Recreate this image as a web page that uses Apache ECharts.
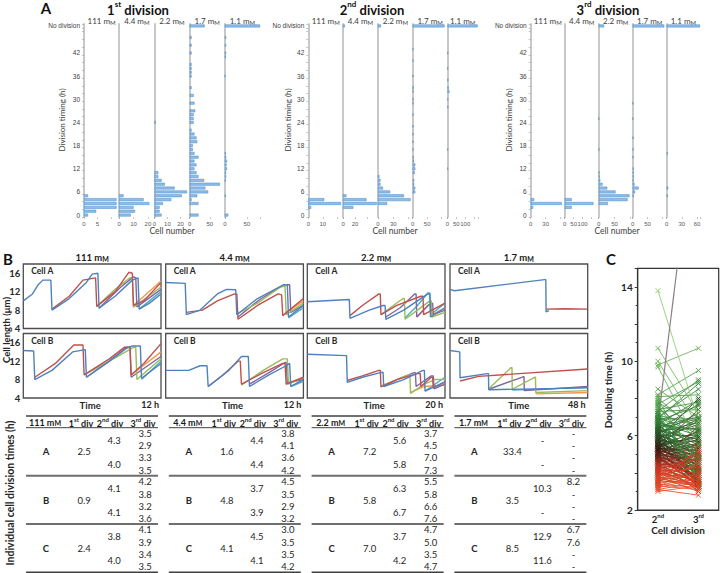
<!DOCTYPE html>
<html><head><meta charset="utf-8">
<script src="https://cdn.jsdelivr.net/npm/echarts@6/dist/echarts.min.js"></script>
<style>html,body{margin:0;padding:0;background:#fff}#c{width:720px;height:573px}</style>
</head><body><div id="c"></div>
<script>
// ================= DATA =================
// Panel A: division timing histograms (hour bin -> cell count, 'ND' = no division)
const hourCats = [];
for (let i = 0; i < 48; i++) hourCats.push(String(i));
hourCats.push(' '); hourCats.push('No division');
const hourTickLabels = ['0','6','12','18','24','30','36','42','No division'];
const concs = ['111','4.4','2.2','1.7','1.1'];
const divTitles = [['1','st'],['2','nd'],['3','rd']];

const h1_111 = [[0,1.5],[1,4.5],[2,12],[3,12],[4,12],[5,1.5]];
const h1_44  = [[0,8],[1,11],[2,10],[3,21],[4,17],[5,3]];
const h1_22  = [[0,5.5],[1,4],[2,4],[3,6.5],[4,13],[5,21],[6,25],[7,15.5],[8,8],[9,5.5],[10,3],[11,3],[24,1]];
const h1_17  = [[0,22],[3,22],[4,5],[5,19],[6,46],[7,39],[8,75],[9,36],[10,22],[11,17],[12,12],[13,17],[14,12],[15,22],[16,12],[17,8],[18,8],[19,19],[20,17],[21,12],[22,5],[24,10],[25,10],[26,10],[27,14],[29,12],[31,10],[33,5],[36,5],[37,5],[38,5],[39,5],[42,5],[44,5],[46,5],['ND',37]];
const h1_11  = [[0,8],[5,2],[9,2],[10,3],[11,3],[12,5],[13,4],[14,5],[15,3],[16,2],[36,1],[41,2],[42,3],[44,3],[46,3],['ND',80]];

const h2_111 = [[2,2],[3,22.5],[4,11]];
const h2_44  = [[2,17],[3,56],[4,39],[5,5.5],['ND',3]];
const h2_22  = [[3,18],[4,64],[5,51],[6,24],[7,10],[8,5],[9,5],[10,3],['ND',6]];
const h2_17  = [[6,9],[7,9],[8,5],[9,5],[11,7],[12,9],[13,9],[14,4],[15,3],[17,2],[19,2],[21,2],[23,2],[26,2],[29,2],[30,2],[32,2],[33,3],[36,2],[40,2],[43,2],['ND',110]];
const h2_11  = [[12,2],[17,2],[28,4],[30,3],[32,11],[33,6],[35,4],[38,2],[42,3],['ND',170]];

const h3_111 = [[2,5],[3,62],[4,7]];
const h3_44  = [[2,39],[3,161],[4,39]];
const h3_22  = [[3,29],[4,91],[5,97],[6,53],[7,27],[8,12],[9,5],[10,3],[11,2],[17,1],[25,1],['ND',17]];
const h3_17  = [[5,3],[6,8],[7,20],[8,6],[9,3],[10,3],[11,3],[12,3],[15,2],[17,2],[20,2],[25,1],[29,1],['ND',107]];
const h3_11  = [[5,2],[7,3],[16,2],['ND',66]];

const histSets = [[h1_111,h1_44,h1_22,h1_17,h1_11],[h2_111,h2_44,h2_22,h2_17,h2_11],[h3_111,h3_44,h3_22,h3_17,h3_11]];
const histMax = [[13,24.5,27,87,80],[24,58,68,120,172],[68,190,107,115,66]];
const histStep = [[5,10,10,50,50],[10,20,30,50,50],[30,50,50,50,30]];
const histLabelMax = [[5,20,20,50,50],[10,20,30,50,100],[30,100,50,50,60]];

// Panel B: cell length traces [time (h), length (um)], order: blue, red, green, purple, orange, cyan
const bConcs = ['111','4.4','2.2','1.7'];
const bTimeMax = [12,12,20,48];
const bTimeLabels = ['12 h','12 h','20 h','48 h'];
const lenTicks = [4,8,12,16];
const b111A = [
 [[0,10],[0.8,11.5],[1.3,13.5],[1.7,14.5],[2.4,14.5],[2.5,8],[4,10.5],[5.5,14],[6,15.8],[6.5,16],[6.6,8.4],[8,11],[9.5,14.5],[10,15],[10.1,8.2],[11,9.5],[12,11.5]],
 [[2.5,8.2],[4,11],[5.2,14.5],[6.3,15],[6.4,8.8],[8,12],[9.2,16.2],[9.5,16],[9.6,9],[10.5,10],[12,14]],
 [[6.4,8.8],[8,12.5],[9.3,15],[9.5,15],[9.6,8.6],[12,13]],
 [[6.6,8.4],[8.5,13],[9.6,15.2],[9.8,15],[9.9,8.7],[12,12.5]],
 [[9.6,9],[12,14.3]],
 [[10.1,8.2],[12,12]]];
const b111B = [
 [[0,14.3],[0.9,14.2],[1,8],[2.5,10],[4.3,14],[5.4,14.5],[5.5,8.5],[7.5,12],[9,14.8],[9.5,15.3],[10.2,15.3],[10.3,8.3],[12,11.5]],
 [[1,8.5],[2.8,11.5],[4.4,15.5],[5.2,15.5],[5.3,9],[7.5,12.5],[8.8,15],[9.3,15],[9.4,9],[10.5,11.5],[12,15.8]],
 [[5.3,9],[7.5,12],[9.6,15],[9.8,15],[9.9,8],[12,12.5]],
 [[5.5,8.5],[7.5,12],[9,15],[9.3,15],[9.4,8.5],[12,13]],
 [[9.4,9],[12,14]],
 [[10.3,8],[12,12]]];
const b44A = [
 [[0,14],[1.7,13.8],[1.8,7],[3,8],[4.5,11.5],[5.3,12.5],[6.1,12.4],[6.2,7],[8,10.5],[10.3,13.5],[10.6,13.5],[10.7,6.5],[12,9]],
 [[1.8,7.5],[3.2,8],[4.5,10],[6,11.5],[6.2,11.5],[6.3,6],[8,9],[9.8,11.5],[10.1,11.3],[10.2,6.8],[12,10.5]],
 [[6.2,7.2],[8,9.5],[10,13],[10.4,13.2],[10.5,7],[12,9.5]],
 [[6.3,6.5],[8.2,10.3],[10.3,13.5],[10.8,13.5],[10.9,7.5],[12,9]],
 [[10.5,7.5],[12,10]],
 [[10.7,6.3],[12,8.5]]];
const b44B = [
 [[0,10],[2,10],[3,11],[3.6,11],[3.7,6.5],[5.5,10],[6.6,13],[7.2,13],[7.3,6.5],[9,9],[10.5,11],[10.8,11.5],[10.9,6.5],[12,8]],
 [[3.7,6.5],[5,9],[6.3,12],[6.5,12],[6.6,7],[8.5,9.5],[10.2,11.5],[10.4,11.5],[10.5,7],[12,8.5]],
 [[6.6,6.8],[8.5,10],[10.2,12.5],[10.6,12.5],[10.7,7],[12,8.5]],
 [[7.3,7],[9,9.5],[10.4,11.7],[10.5,11.7],[10.6,7.3],[12,8]],
 [[10.5,7],[12,8.3]],
 [[10.9,6.5],[12,7.6]]];
const b22A = [
 [[0,9.8],[6.1,10.3],[6.2,6.2],[9,8],[11,9],[11.3,9],[11.4,6],[14,8],[17.5,11.5],[17.8,11.5],[17.9,6.5],[20,8.5]],
 [[6.2,6.8],[8,9],[10.4,11.5],[10.6,11.5],[10.7,7],[13,9],[16.5,11],[16.8,11],[16.9,7],[20,9.5]],
 [[10.7,7],[12.5,9],[13.9,10.5],[14.1,10.5],[14.2,6],[16,8],[17.8,10],[18,10],[18.1,6.5],[20,7.5]],
 [[11.4,6.5],[13.5,8.5],[15.6,11.5],[15.8,11.5],[15.9,6.5],[17.5,9],[18.2,9.5],[18.3,7],[20,8]],
 [[15.9,6.5],[17.6,9],[18,9.3],[18.1,7],[20,8.5]],
 [[14.2,6.3],[16,9],[17.5,11.7],[17.8,11.7],[17.9,7],[20,9.5]]];
const b22B = [
 [[0,13.5],[5.7,13.2],[5.8,7.4],[8,8.5],[10.6,9.5],[11,9.6],[11.1,6.5],[14,8],[16.8,10],[17,10],[17.1,5.5],[20,7.5]],
 [[5.8,7.8],[8,8.8],[10.4,10],[10.6,10],[10.7,6.4],[13,8],[16,9.3],[16.4,9.3],[16.5,6.5],[18,8.5],[18.2,8.5],[18.3,6.2],[20,7.5]],
 [[10.7,6.6],[13,8],[14.7,9],[14.9,9],[15,5],[17,7],[18.5,8],[20,8]],
 [[11.1,6.6],[13.5,8.3],[15.5,9.5],[15.7,9.5],[15.8,6.5],[18,8.8],[18.3,8.8],[18.4,6],[20,7]],
 [[15,5.2],[17,6.5],[20,6.8]],
 [[17.1,5.5],[20,8.5]]];
const b17A = [
 [[0,12.5],[1.5,12.2],[33,14.6],[33.4,14.6],[33.5,7.6],[34.5,7.9]],
 [[33.5,8.2],[40,8.3],[48,8.2]]];
const b17B = [
 [[0,14.3],[3.4,14],[3.5,8.4],[13,9.3],[13.4,9.3],[13.5,5.8],[48,6.2]],
 [[3.5,7.7],[10,8.7],[48,10.3]],
 [[13.5,6],[21.3,10.6],[21.6,10.6],[21.7,5.9],[29.5,8.5],[29.8,8.5],[29.9,5.2],[48,5.6]],
 [[13.5,5.9],[25.5,8.6],[25.8,8.6],[25.9,5.6],[48,6.5]],
 [[29.9,4.9],[48,5.2]],
 [[21.7,5.7],[48,6.3]]];
const bSets = [[b111A,b111B],[b44A,b44B],[b22A,b22B],[b17A,b17B]];

// Tables
const tabConc = ['111','4.4','2.2','1.7'];
const tabCells = ['A','B','C'];
const tabDiv1 = [['2.5','0.9','2.4'],['1.6','4.8','4.1'],['7.2','5.8','7.0'],['33.4','3.5','8.5']];
const tabDiv2 = [
 [['4.3','4.0'],['4.1','4.1'],['3.8','4.0']],
 [['4.4','4.4'],['3.7','3.9'],['4.5','4.1']],
 [['5.6','5.8'],['6.3','6.7'],['3.7','4.2']],
 [['-','-'],['10.3','-'],['12.9','11.6']]];
const tabDiv3 = [
 [['3.5','2.9','3.3','3.5'],['4.2','3.8','3.2','3.6'],['4.1','3.9','3.4','3.5']],
 [['3.8','4.1','3.6','4.2'],['4.5','3.5','2.9','3.2'],['3.0','3.5','3.5','4.2']],
 [['3.7','4.5','7.0','7.3'],['5.5','5.8','6.6','7.6'],['4.7','5.0','3.5','4.7']],
 [['-','-','-','-'],['8.2','-','-','-'],['6.7','7.6','-','-']]];

// Panel C: doubling time pairs [2nd division, 3rd division]
const cCats = ['2nd','3rd'];
const cTicks = [2,6,10,14];
const cPairs = [
 [13.8,6.8],[10.7,7.2],[10.0,6.5],[9.8,10.7],[9.7,5.5],[8.5,7.0],[8.2,9.5],[8.0,6.2],[7.9,4.5],[7.7,8.9],
 [7.5,5.8],[7.3,7.4],[7.2,4.0],[7.1,6.6],[7.0,8.5],[6.9,5.2],[6.8,7.6],[6.8,3.6],[6.7,6.0],[6.6,4.8],
 [6.5,7.0],[6.5,5.5],[6.4,4.2],[6.3,6.4],[6.3,3.3],[6.2,5.0],[6.1,7.2],[6.0,4.5],[6.0,6.0],[5.9,3.8],
 [5.8,5.3],[5.8,8.0],[5.7,4.4],[5.6,6.8],[5.6,3.5],[5.5,4.9],[5.5,5.9],[5.4,4.0],[5.3,7.4],[5.3,3.2],
 [5.2,4.6],[5.1,5.6],[5.0,3.7],[5.0,6.3],[4.9,4.1],[4.8,3.4],[4.8,5.1],[4.7,4.3],[4.6,3.0],[4.6,6.5],
 [4.5,3.9],[4.4,4.7],[4.4,3.4],[4.3,5.4],[4.2,3.6],[4.1,4.2],[4.0,3.2],[4.0,5.0],[3.9,3.8],[3.8,4.4],
 [3.7,3.3],[3.6,5.2],[3.5,3.6],[3.4,4.0],[3.3,3.1],[3.2,4.6],[3.1,3.5],[3.1,2.8],[6.4,6.9],[6.2,4.0],
 [6.0,5.4],[5.9,6.6],[5.8,4.1],[5.7,5.7],[5.6,3.9],[5.5,6.2],[5.4,4.7],[5.3,5.2],[5.2,3.6],[5.1,4.3],
 [5.0,5.5],[4.9,3.3],[4.8,4.5],[4.7,3.8],[4.6,5.0],[4.5,4.2],[4.3,3.5],[4.2,4.8],[4.1,3.3],[3.9,4.3],
 [3.8,3.0],[3.6,3.9],[3.5,4.5],[3.4,3.2],[3.2,3.7],[3.0,3.3],[7.0,6.1],[7.4,7.8],[7.2,5.0],[6.9,6.9],
 [6.6,7.9],[6.5,4.3],[6.3,5.8],[6.1,3.5],[6.9,4.6],[6.8,5.6],[6.7,3.9],[6.6,6.3],[6.5,3.6],[6.4,5.1],
 [6.3,7.7],[6.2,6.7],[6.1,4.9],[6.0,3.4],[5.9,5.0],[5.8,6.9],[5.7,3.6],[5.6,4.8],[5.5,3.4],[5.4,6.0],
 [5.3,4.4],[5.2,5.8],[5.1,3.5],[5.0,4.6],[4.9,5.3],[4.8,3.7],[4.7,4.9],[4.6,3.9],[4.5,5.6],[4.4,3.7],
 [4.3,4.4],[4.2,3.2],[4.1,5.1],[4.0,3.6],[3.9,4.8],[3.8,3.4],[3.7,4.1],[3.6,3.3],[3.5,4.9],[3.3,3.8],
 [7.8,6.4],[7.6,4.8],[8.1,8.2],[7.1,3.8],[6.9,8.8],[7.3,9.0]];
const cOutlier = [6.7,24.3];

// ================= LAYOUT / STYLE =================
const FONT = 'Lato, "Open Sans", sans-serif';
const PAL = ['#4f81bd','#c0504d','#9bbb59','#8064a2','#f79646','#4bacc6'];
const histLeft = [[84,119.2,154.4,189.6,224.8],[308.3,343.1,377.9,412.7,447.5],[530.7,564.7,598.7,632.7,666.7]];
const histEnd = [260,478,700];
const histAxisTitleX = [62,288,509];
const histCenter = [138,372,608];
const cellNumX = [172,395,617];

const grids = [], xAxes = [], yAxes = [], series = [], gfx = [];
function txt(x, y, text, st, extra) {
  return Object.assign({type:'text', x, y, silent:true, style:Object.assign({text, fill:'#262626', fontFamily:FONT, fontSize:9, align:'center', verticalAlign:'middle'}, st)}, extra || {});
}
const mmRich = (size, bold, color) => ({
  n:{fontSize:size, fontWeight:bold?'bold':'normal', fontFamily:FONT, fill:color, color:color, verticalAlign:'bottom'},
  c:{fontSize:Math.round(size*0.75), fontWeight:bold?'bold':'normal', fontFamily:FONT, fill:color, color:color, verticalAlign:'bottom'}
});
const supRich = (size, color) => ({
  b:{fontSize:size, fontWeight:'bold', fontFamily:FONT, fill:color, color:color, verticalAlign:'bottom', lineHeight:size+3},
  s:{fontSize:Math.round(size*0.62), fontWeight:'bold', fontFamily:FONT, fill:color, color:color, verticalAlign:'top'}
});

function histData(pairs) {
  const arr = hourCats.map(() => '-');
  pairs.forEach(([h, v]) => {
    const k = h === 'ND' ? hourCats.length - 1 : hourCats.indexOf(String(h));
    arr[k] = v;
  });
  return arr;
}

// ---------- Panel A ----------
gfx.push(txt(46, 8, 'A', {fontSize:15, fontWeight:'bold', fill:'#111'}));
for (let g = 0; g < 3; g++) {
  gfx.push(txt(histCenter[g], 8, '{b|' + divTitles[g][0] + '}{s|' + divTitles[g][1] + '}{b| division}', {rich:supRich(13,'#111')}));
  gfx.push(txt(histAxisTitleX[g], 120, 'Division timing (h)', {fontSize:8, fill:'#404040'}, {rotation:Math.PI/2}));
  gfx.push(txt(cellNumX[g], 231, 'Cell number', {fontSize:8.5, fill:'#404040'}));
  for (let p = 0; p < 5; p++) {
    const left = histLeft[g][p];
    const right = p < 4 ? histLeft[g][p+1] : histEnd[g];
    const gi = grids.length;
    grids.push({left, top:24, width:right-left, height:193, outerBoundsMode:'none'});
    const step = histStep[g][p], lmax = histLabelMax[g][p];
    xAxes.push({gridIndex:gi, type:'value', min:0, max:histMax[g][p], interval:step,
      axisLine:{show:false}, axisTick:{show:true, length:2, lineStyle:{color:'#a0a0a0', width:0.6}},
      axisLabel:{fontSize:6, color:'#595959', fontFamily:'Liberation Sans', margin:4, hideOverlap:false,
        formatter:v => (v % step === 0 && v <= lmax) ? String(v) : ''},
      splitLine:{show:false}});
    yAxes.push({gridIndex:gi, type:'category', data:hourCats,
      axisLine:{show:true, lineStyle:{color:'#c8c8c8', width:2}},
      axisTick:{show:p===0, interval:1, length:2, lineStyle:{color:'#a0a0a0', width:0.6}},
      axisLabel:{show:p===0, fontSize:6.5, color:'#404040', fontFamily:'Liberation Sans', margin:4,
        interval:0, formatter:v => hourTickLabels.indexOf(v) >= 0 ? v : ''},
      splitLine:{show:false}});
    series.push({type:'bar', xAxisIndex:gi, yAxisIndex:gi, data:histData(histSets[g][p]), barWidth:2.9,
      itemStyle:{color:'#8dbde8', borderColor:'#4a8bc9', borderWidth:0.5}, animation:false, silent:true});
    gfx.push(txt((left+right)/2, 21, '{n|' + concs[p] + ' m}{c|M}', {rich:mmRich(8,false,'#404040')}));
  }
}

// ---------- Panel B ----------
const bLeft = [23.3,165.7,307.3,450], bW = 137.7, bTop = [264,333.5], bH = 64.5;
gfx.push(txt(8, 259, 'B', {fontSize:15, fontWeight:'bold', fill:'#111'}));
gfx.push(txt(6, 330, 'Cell length (\u03bcm)', {fontSize:9.5, fontWeight:'bold'}, {rotation:Math.PI/2}));
for (let c = 0; c < 4; c++) {
  gfx.push(txt(bLeft[c]+bW/2, 257, '{n|' + bConcs[c] + ' m}{c|M}', {rich:mmRich(9.5,true,'#1a1a1a')}));
  gfx.push(txt(bLeft[c]+bW/2 - (c===3?0:2), 405, 'Time', {fontSize:9.5, fontWeight:'bold'}));
  gfx.push(txt(bLeft[c]+bW-2, 404, bTimeLabels[c], {fontSize:9, fontWeight:'bold', align:'right'}));
  for (let r = 0; r < 2; r++) {
    const gi = grids.length;
    grids.push({left:bLeft[c], top:bTop[r], width:bW, height:bH, show:true, borderColor:'#4d4d4d', borderWidth:1.3, backgroundColor:'#fff', outerBoundsMode:'none'});
    xAxes.push({gridIndex:gi, type:'value', min:0, max:bTimeMax[c], show:false});
    yAxes.push({gridIndex:gi, type:'value', min:4, max:18, interval:4,
      axisLine:{show:false}, axisTick:{show:false}, splitLine:{show:false},
      axisLabel:{show:c===0, fontSize:9.5, fontWeight:'bold', color:'#262626', fontFamily:FONT, margin:3,
        formatter:v => lenTicks.indexOf(v) >= 0 ? String(v) : ''}});
    bSets[c][r].forEach((d, k) => {
      series.push({type:'line', xAxisIndex:gi, yAxisIndex:gi, data:d, showSymbol:false, symbol:'none',
        lineStyle:{color:PAL[k], width:1.4}, z:10-k, animation:false, silent:true});
    });
    gfx.push(txt(bLeft[c]+8, bTop[r]+7, r===0?'Cell A':'Cell B', {fontSize:8.5, fontWeight:'bold', align:'left'}, {z:100}));
  }
}

// ---------- Tables ----------
gfx.push(txt(10, 493, 'Individual cell division times (h)', {fontSize:10.5, fontWeight:'bold'}, {rotation:Math.PI/2}));
function hline(x1, x2, y, w, col) {
  return {type:'line', silent:true, shape:{x1, y1:y, x2, y2:y}, style:{stroke:col, lineWidth:w}};
}
for (let j = 0; j < 4; j++) {
  const L = 26 + 142.8*j, W = 132;
  gfx.push(hline(L, L+W, 416, 1.5, '#404040'));
  gfx.push(hline(L, L+W, 427.7, 1, '#404040'));
  gfx.push(txt(L+19, 422, '{n|' + tabConc[j] + ' m}{c|M}', {rich:mmRich(9,true,'#1a1a1a')}));
  const hd = [['1','st',55],['2','nd',84],['3','rd',117]];
  hd.forEach(h => gfx.push(txt(L+h[2], 422, '{b|' + h[0] + '}{s|' + h[1] + '}{b| div}', {rich:supRich(9,'#1a1a1a')})));
  for (let r = 0; r < 3; r++) {
    const base = 427.7 + r*48.3;
    gfx.push(txt(L+20, base+24, tabCells[r], {fontSize:9.5, fontWeight:'bold'}));
    gfx.push(txt(L+58, base+24, tabDiv1[j][r], {fontSize:9.5}));
    gfx.push(txt(L+88, base+12.3, tabDiv2[j][r][0], {fontSize:9.5}));
    gfx.push(txt(L+88, base+36.3, tabDiv2[j][r][1], {fontSize:9.5}));
    [5.6,18,30,42.3].forEach((dy, k) => gfx.push(txt(L+119, base+dy, tabDiv3[j][r][k], {fontSize:9.5})));
    gfx.push(hline(L, L+W, base+48, r===2?1.8:2, r===2?'#404040':'#6e6e6e'));
  }
}

// ---------- Panel C ----------
gfx.push(txt(611, 259, 'C', {fontSize:15, fontWeight:'bold', fill:'#111'}));
gfx.push(txt(608, 390, 'Doubling time (h)', {fontSize:10, fontWeight:'bold'}, {rotation:Math.PI/2}));
gfx.push(txt(678, 530, 'Cell division', {fontSize:10, fontWeight:'bold'}));
const cGi = grids.length;
grids.push({left:637.7, top:268.3, width:81, height:241.7, show:true, borderColor:'#333', borderWidth:1.2, outerBoundsMode:'none'});
xAxes.push({gridIndex:cGi, type:'category', data:cCats, axisLine:{show:true, lineStyle:{color:'#333', width:1.2}}, axisTick:{show:false},
  axisLabel:{interval:0, margin:2, hideOverlap:false, formatter:v => '{b|' + v[0] + '}{s|' + v.slice(1) + '}', rich:supRich(9.5,'#1a1a1a')}});
yAxes.push({gridIndex:cGi, type:'value', min:2, max:15, interval:2, splitLine:{show:false},
  axisLine:{show:true, lineStyle:{color:'#333', width:1.2}}, axisTick:{show:true, length:3, lineStyle:{color:'#333'}},
  minorTick:{show:true, splitNumber:2, length:2, lineStyle:{color:'#333'}},
  axisLabel:{fontSize:10, fontWeight:'bold', color:'#262626', fontFamily:FONT, margin:5,
    formatter:v => cTicks.indexOf(v) >= 0 ? String(v) : ''}});
const cStops = [[3,[235,75,35]],[4.2,[200,55,30]],[5.2,[60,25,18]],[6.0,[40,75,35]],[7.0,[50,135,55]],[9,[95,175,75]],[14,[140,205,110]]];
function colorFor(v) {
  if (v <= cStops[0][0]) return 'rgb(' + cStops[0][1].join(',') + ')';
  for (let i = 1; i < cStops.length; i++) {
    if (v <= cStops[i][0]) {
      const t = (v - cStops[i-1][0]) / (cStops[i][0] - cStops[i-1][0]);
      const a = cStops[i-1][1], b = cStops[i][1];
      return 'rgb(' + a.map((x, k) => Math.round(x + (b[k]-x)*t)).join(',') + ')';
    }
  }
  return 'rgb(' + cStops[cStops.length-1][1].join(',') + ')';
}
const xSym = 'path://M0,0L10,10M10,0L0,10';
const cOrder = cPairs.slice().sort((a, b) => Math.abs(a[0]-5.4) - Math.abs(b[0]-5.4));
cOrder.forEach(pr => {
  const col = colorFor(pr[0]);
  series.push({type:'line', xAxisIndex:cGi, yAxisIndex:cGi, data:[pr[0], pr[1]], symbol:xSym, symbolSize:5,
    itemStyle:{color:'none', borderColor:col, borderWidth:0.9}, lineStyle:{color:col, width:1, opacity:0.85},
    animation:false, silent:true});
});
series.push({type:'line', xAxisIndex:cGi, yAxisIndex:cGi, data:cOutlier, symbol:'none', clip:true,
  lineStyle:{color:'#8c7f86', width:1.2}, animation:false, silent:true});

const chart = echarts.init(document.getElementById('c'), null, {renderer:'svg', width:720, height:573});
chart.setOption({
  animation:false, backgroundColor:'#fff',
  textStyle:{fontFamily:FONT},
  grid:grids, xAxis:xAxes, yAxis:yAxes, series, graphic:{elements:gfx}
});
</script></body></html>
